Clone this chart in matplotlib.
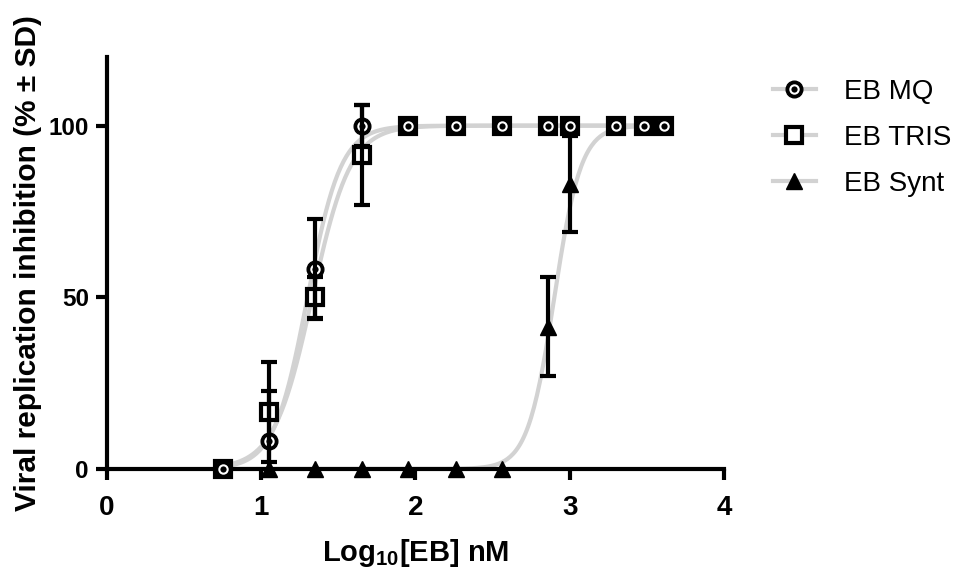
import numpy as np
import matplotlib
matplotlib.use('Agg')
import matplotlib.pyplot as plt
from matplotlib.lines import Line2D

plt.rcParams['font.family'] = ['Liberation Sans', 'DejaVu Sans']
plt.rcParams['mathtext.fontset'] = 'custom'
plt.rcParams['mathtext.rm'] = 'Liberation Sans'
plt.rcParams['mathtext.bf'] = 'Liberation Sans:bold'

# Data (x = log10 concentration, y = % inhibition)
mq_x = [0.75, 1.05, 1.35, 1.65, 1.95, 2.26, 2.56, 2.86, 3.0, 3.3, 3.48, 3.61]
mq_y = [0, 8.2, 58.2, 100, 100, 100, 100, 100, 100, 100, 100, 100]
mq_sd = [0, 14.4, 14.6, 6.0, 0, 0, 0, 0, 0, 0, 0, 0]

tris_x = [0.75, 1.05, 1.35, 1.65, 1.95, 2.26, 2.56, 2.86, 3.0, 3.3, 3.48, 3.61]
tris_y = [0, 16.7, 50.0, 91.5, 100, 100, 100, 100, 100, 100, 100, 100]
tris_sd = [0, 14.6, 6.0, 14.6, 0, 0, 0, 0, 0, 0, 0, 0]

synt_x = [0.75, 1.05, 1.35, 1.65, 1.95, 2.26, 2.56, 2.86, 3.0, 3.3, 3.48, 3.61]
synt_y = [0, 0, 0, 0, 0, 0, 0, 41.5, 83.0, 100, 100, 100]
synt_sd = [0, 0, 0, 0, 0, 0, 0, 14.5, 14.0, 0, 0, 0]

# Sigmoid fit parameters (log EC50, Hill slope)
mq_fit = (1.30, 4.0)
tris_fit = (1.33, 3.5)
synt_fit = (2.90, 5.0)

labels = ['EB MQ', 'EB TRIS', 'EB Synt']

GRAY = '#d2d2d2'


def sigmoid(x, logec50, hill):
    return 100.0 / (1.0 + 10 ** ((logec50 - x) * hill))


fig = plt.figure(figsize=(9.75, 5.79), dpi=100)
ax = fig.add_axes([0.1097, 0.19, 0.6329, 0.7116])

# fitted curves
for xs, fit in [(synt_x, synt_fit), (tris_x, tris_fit), (mq_x, mq_fit)]:
    xx = np.linspace(min(xs), max(xs), 300)
    ax.plot(xx, sigmoid(xx, *fit), color=GRAY, lw=3, zorder=1, solid_capstyle='round')

# markers: Synt at the bottom, then TRIS, then MQ
ax.plot(synt_x, synt_y, ls='none', marker='^', ms=11, mfc='black', mec='black',
        zorder=3, clip_on=False)
ax.plot(tris_x, tris_y, ls='none', marker='s', ms=12, mfc='white', mec='black',
        mew=3, zorder=4, clip_on=False)
ax.plot(mq_x, mq_y, ls='none', marker='o', ms=12, mfc='black', mec='black',
        zorder=5, clip_on=False)
ax.plot(mq_x, mq_y, ls='none', marker='o', ms=6, mfc='none', mec='white',
        mew=1.5, zorder=5.5, clip_on=False)

# error bars
for xs, ys, sd in [(synt_x, synt_y, synt_sd), (tris_x, tris_y, tris_sd), (mq_x, mq_y, mq_sd)]:
    xe = [x for x, s in zip(xs, sd) if s > 0]
    ye = [y for y, s in zip(ys, sd) if s > 0]
    se = [s for s in sd if s > 0]
    ax.errorbar(xe, ye, yerr=se, fmt='none', ecolor='black', elinewidth=3,
                capsize=6, capthick=3, zorder=6)

ax.set_xlim(0, 4)
ax.set_ylim(0, 120)
ax.set_xticks([0, 1, 2, 3, 4])
ax.set_yticks([0, 50, 100])
for s in ['top', 'right']:
    ax.spines[s].set_visible(False)
for s in ['left', 'bottom']:
    ax.spines[s].set_linewidth(3)
ax.tick_params(direction='out', length=8, width=3)
ax.tick_params(axis='x', labelsize=20, pad=11)
ax.tick_params(axis='y', labelsize=17.5, pad=5)
for lab in ax.get_xticklabels() + ax.get_yticklabels():
    lab.set_fontweight('bold')

ax.set_xlabel(r'Log$_{\mathbf{10}}$[EB] nM', fontsize=21, fontweight='bold', labelpad=11)
ax.set_ylabel('Viral replication inhibition (% \u00b1 SD)', fontsize=21.5,
              fontweight='bold', labelpad=5)

# legend
h_mq = (Line2D([], [], color=GRAY, lw=3, marker='o', ms=12, mfc='black', mec='black'),
        Line2D([], [], ls='none', marker='o', ms=6, mfc='none', mec='white', mew=1.5))
h_tris = Line2D([], [], color=GRAY, lw=3, marker='s', ms=12, mfc='white', mec='black', mew=3)
h_synt = Line2D([], [], color=GRAY, lw=3, marker='^', ms=11, mfc='black', mec='black')
fig.legend([h_mq, h_tris, h_synt], labels, loc='upper left',
           bbox_to_anchor=(0.767, 0.907), frameon=False, fontsize=20,
           handlelength=1.55, handletextpad=1.0, labelspacing=0.72)

fig.savefig('out.png', dpi=100)
